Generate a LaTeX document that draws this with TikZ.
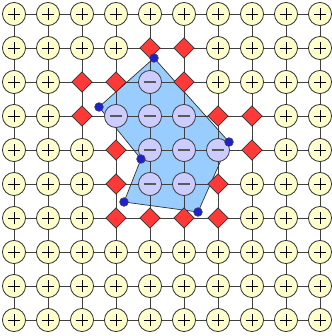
\documentclass[tikz,border=0pt]{standalone}
\usepackage{tikz}
\usetikzlibrary{shapes.geometric, backgrounds}
\definecolor{cellyellow}{HTML}{FFFFCC}
\definecolor{celllilac}{HTML}{CCCCFF}
\definecolor{cutred}{HTML}{FF3838}
\definecolor{areablue}{HTML}{99CCFF}
\definecolor{dotblue}{HTML}{2020CC}

\begin{document}
\begin{tikzpicture}[
    x=1cm, y=1cm,
    cellout/.style={
      circle, draw=black!80, fill=cellyellow, line width=0.7pt,
      minimum size=0.68cm, inner sep=0pt,
      path picture={
        \draw[black, line width=0.8pt]
          (path picture bounding box.center) +(-0.19,0) -- +(0.19,0)
          (path picture bounding box.center) +(0,-0.19) -- +(0,0.19);
      }
    },
    cellin/.style={
      circle, draw=black!75, fill=celllilac, line width=0.7pt,
      minimum size=0.68cm, inner sep=0pt,
      path picture={
        \draw[black!65, line width=1.6pt]
          (path picture bounding box.center) +(-0.19,0) -- +(0.19,0);
      }
    },
    cellcut/.style={
      diamond, draw=black!80, fill=cutred, line width=0.6pt,
      minimum size=0.6cm, inner sep=0pt
    },
    corner/.style={
      circle, draw=black!70, fill=dotblue, line width=0.4pt,
      minimum size=0.26cm, inner sep=0pt
    },
    gridline/.style={draw=black!75, line width=0.8pt}
  ]
    \useasboundingbox (-0.412,0.412) rectangle (9.353,-9.471);

    % cells, one row at a time
    \foreach \r/\row in {
        0/{out,out,out,out,out,out,out,out,out,out},
        1/{out,out,out,out,cut,cut,out,out,out,out},
        2/{out,out,cut,cut,in,cut,out,out,out,out},
        3/{out,out,cut,in,in,in,cut,cut,out,out},
        4/{out,out,out,cut,in,in,in,cut,out,out},
        5/{out,out,out,cut,in,in,cut,out,out,out},
        6/{out,out,out,cut,cut,cut,cut,out,out,out},
        7/{out,out,out,out,out,out,out,out,out,out},
        8/{out,out,out,out,out,out,out,out,out,out},
        9/{out,out,out,out,out,out,out,out,out,out}} {
      \foreach \t [count=\c from 0] in \row {
        \node[cell\t] (n-\c-\r) at (\c,-\r) {};
      }
    }

    % polygon corners
    \node[corner] (p1) at (4.118,-1.294) {};
    \node[corner] (p2) at (6.324,-3.765) {};
    \node[corner] (p3) at (5.412,-5.824) {};
    \node[corner] (p4) at (3.235,-5.529) {};
    \node[corner] (p5) at (3.735,-4.265) {};
    \node[corner] (p6) at (2.500,-2.735) {};

    \begin{pgfonlayer}{background}
      \fill[areablue] (p1.center) -- (p2.center) -- (p3.center) -- (p4.center)
        -- (p5.center) -- (p6.center) -- cycle;
      \foreach \r in {0,...,9} {
        \foreach \c [count=\cc from 1] in {0,...,8} {
          \draw[gridline] (n-\c-\r.center) -- (n-\cc-\r.center);
          \draw[gridline] (n-\r-\c.center) -- (n-\r-\cc.center);
        }
      }
      \draw[black!80, line width=0.6pt] (p1.center) -- (p2.center) -- (p3.center)
        -- (p4.center) -- (p5.center) -- (p6.center) -- cycle;
    \end{pgfonlayer}
\end{tikzpicture}
\end{document}
